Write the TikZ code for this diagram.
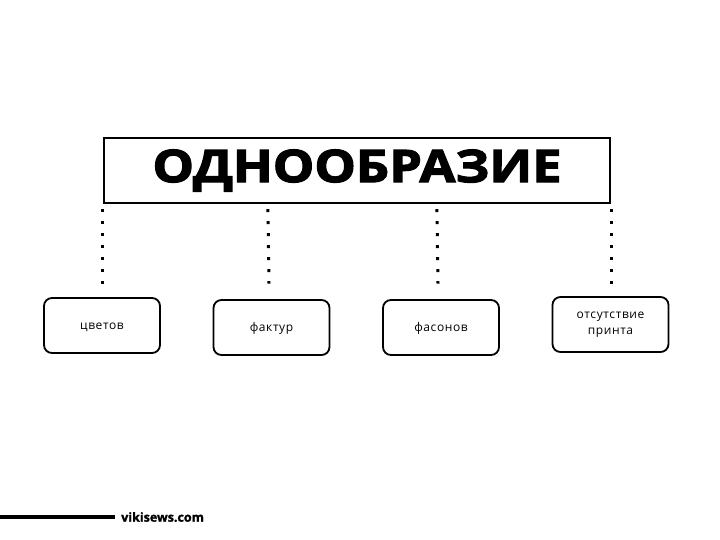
\documentclass[tikz,border=0pt]{standalone}
\usepackage{fontspec}
\setmainfont{Open Sans}
\newfontfamily\titlefont[FakeBold=2.5]{Open Sans Bold}
\newfontfamily\smallfont[LetterSpace=5]{Open Sans}
\newfontfamily\sitefont[FakeBold=1.5]{Open Sans Bold}
\begin{document}
\begin{tikzpicture}[x=1pt,y=-1pt,
  mainbox/.style={draw,line width=2.2pt,minimum width=506pt,minimum height=65pt,inner sep=0pt},
  subbox/.style={draw,line width=1.8pt,rounded corners=8pt,minimum width=116pt,minimum height=55pt,inner sep=0pt,align=center,font=\smallfont\fontsize{12}{16}\selectfont},
  oneline/.style={text height=8pt,text depth=0pt},
  dotline/.style={line width=3pt,dash pattern=on 3pt off 9pt}]
\useasboundingbox (0,0) rectangle (720,540);
\node[mainbox] (main) at (357,170.5) {\scalebox{1.16}[1]{\titlefont\fontsize{45}{50}\selectfont ОДНООБРАЗИЕ}};
\node[subbox,oneline] (b1) at (102,325.5) {цветов};
\node[subbox,oneline] (b2) at (271.5,327.5) {фактур};
\node[subbox,oneline] (b3) at (441,327.5) {фасонов};
\node[subbox] (b4) at (610.5,324.5) {отсутствие\\принта};
\draw[dotline] ([yshift=-5pt]main.south west) -- ([yshift=13.5pt]b1.north -| main.south west);
\draw[dotline] ([xshift=165pt,yshift=-5pt]main.south west) -- ([xshift=-2.5pt,yshift=15.5pt]b2.north);
\draw[dotline] ([xshift=334pt,yshift=-5pt]main.south west) -- ([xshift=-3pt,yshift=15.5pt]b3.north);
\draw[dotline] ([yshift=-5pt]main.south east) -- ([yshift=12.5pt]b4.north -| main.south east);
\coordinate (ls) at (0,517);
\coordinate (le) at (115,517);
\draw[line width=4pt] (ls) -- (le);
\node[anchor=west,inner sep=0pt,font=\sitefont\fontsize{12.5}{14}\selectfont] (site) at (121,517) {vikisews.com};
\end{tikzpicture}
\end{document}
